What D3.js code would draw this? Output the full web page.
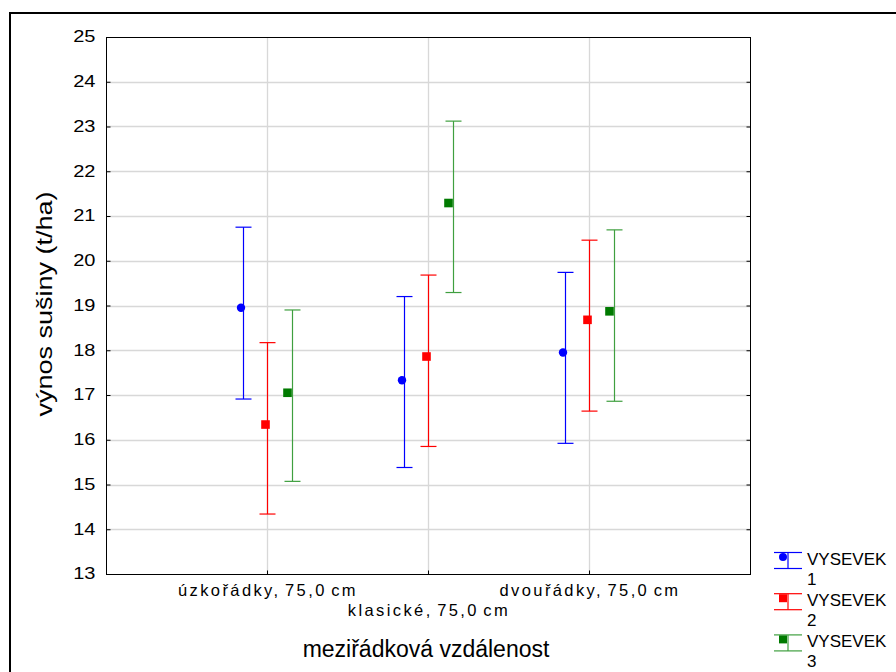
<!DOCTYPE html>
<html>
<head>
<meta charset="utf-8">
<script src="https://cdn.jsdelivr.net/npm/d3@7"></script>
<style>
  html, body { margin: 0; padding: 0; background: #fff; }
  svg { display: block; font-family: "Liberation Sans", Arial, sans-serif; }
</style>
</head>
<body>
<svg id="chart" width="896" height="672"></svg>
<script>
// ---- data ----
const categories = ["úzkořádky, 75,0 cm", "klasické, 75,0 cm", "dvouřádky, 75,0 cm"];
const seriesNames = ["VYSEVEK\n1", "VYSEVEK\n2", "VYSEVEK\n3"];
const means1 = [18.95, 17.33, 17.95];
const upper1 = [20.75, 19.20, 19.74];
const lower1 = [16.91, 15.38, 15.92];
const means2 = [16.34, 17.86, 18.68];
const upper2 = [18.17, 19.68, 20.46];
const lower2 = [14.34, 15.85, 16.64];
const means3 = [17.05, 21.29, 18.87];
const upper3 = [18.90, 23.12, 20.69];
const lower3 = [15.07, 19.29, 16.86];
const yTicks = [13, 14, 15, 16, 17, 18, 19, 20, 21, 22, 23, 24, 25];
const yLabel = "výnos sušiny (t/ha)";
const xLabel = "meziřádková vzdálenost";

// ---- styles ----
const lineColors = ["#0000ff", "#ff0000", "#3f9f3f"];
const dotColors = ["#0000ff", "#ff0000", "#007a00"];
const markers = ["circle", "square", "square"];
const lineOffset = [-24.5, 0, 24.5];
const dotShift = [-2.5, -2, -5];

const series = [
  { mean: means1, up: upper1, lo: lower1 },
  { mean: means2, up: upper2, lo: lower2 },
  { mean: means3, up: upper3, lo: lower3 }
];

const svg = d3.select("#chart");
const L = 106, R = 750, T = 37, B = 574;

// outer frame
svg.append("rect").attr("x", 10).attr("y", 13).attr("width", 900).attr("height", 700)
  .attr("fill", "none").attr("stroke", "#000").attr("stroke-width", 2);

const x = d3.scaleLinear().domain([0, categories.length + 1]).range([L, R]);
const y = d3.scaleLinear().domain([13, 25]).range([B, T]);

// grid
const grid = svg.append("g");
grid.selectAll(".hg").data(yTicks.slice(1, -1)).join("line")
  .attr("x1", L).attr("x2", R)
  .attr("y1", d => Math.round(y(d)) + 0.5).attr("y2", d => Math.round(y(d)) + 0.5)
  .attr("stroke", "#d8d8d8").attr("stroke-width", 1.3);
grid.selectAll(".vg").data(categories).join("line")
  .attr("x1", (d, i) => Math.round(x(i + 1)) + 0.5).attr("x2", (d, i) => Math.round(x(i + 1)) + 0.5)
  .attr("y1", T).attr("y2", B)
  .attr("stroke", "#d8d8d8").attr("stroke-width", 1.3);

// plot frame
svg.append("rect").attr("x", L + 0.5).attr("y", T + 0.5).attr("width", R - L).attr("height", B - T)
  .attr("fill", "none").attr("stroke", "#000").attr("stroke-width", 1);

// left axis
const yAxis = svg.append("g").attr("transform", `translate(${L + 0.5},0)`)
  .call(d3.axisLeft(y).tickValues(yTicks).tickSizeInner(-4).tickSizeOuter(0).tickPadding(0));
yAxis.select(".domain").remove();
yAxis.selectAll("line").attr("stroke", "#000");
yAxis.selectAll("text")
  .attr("x", -8.8).attr("dy", "0.3em")
  .attr("transform", "scale(1.25,1)")
  .attr("font-size", 16).attr("font-family", "Liberation Sans, Arial, sans-serif").attr("fill", "#000");

// right axis ticks
const yAxisR = svg.append("g").attr("transform", `translate(${R + 0.5},0)`)
  .call(d3.axisRight(y).tickValues(yTicks).tickSizeInner(-4).tickSizeOuter(0).tickFormat(""));
yAxisR.select(".domain").remove();
yAxisR.selectAll("line").attr("stroke", "#000");

// bottom axis
const xAxis = svg.append("g").attr("transform", `translate(0,${B + 0.5})`)
  .call(d3.axisBottom(x).tickValues(categories.map((d, i) => i + 1)).tickSizeInner(-4).tickSizeOuter(0).tickFormat(""));
xAxis.select(".domain").remove();
xAxis.selectAll("line").attr("stroke", "#000");

// category labels (staggered)
svg.selectAll(".cat").data(categories).join("text")
  .attr("x", (d, i) => x(i + 1) + 1)
  .attr("y", (d, i) => i % 2 === 0 ? 596 : 616)
  .attr("text-anchor", "middle")
  .attr("font-size", 16.5)
  .attr("letter-spacing", 2.4)
  .attr("word-spacing", -2.5)
  .attr("fill", "#000")
  .text(d => d);

// axis titles
svg.append("text").attr("transform", `translate(52,304) rotate(-90) scale(1.2,1)`)
  .attr("text-anchor", "middle").attr("font-size", 22.5).attr("fill", "#000").text(yLabel);
svg.append("text").attr("x", 426).attr("y", 657)
  .attr("text-anchor", "middle").attr("font-size", 23).attr("fill", "#000").text(xLabel);

// error bars and means
series.forEach((s, si) => {
  const g = svg.append("g");
  categories.forEach((c, ci) => {
    const cx = Math.round(x(ci + 1) + lineOffset[si]) + 0.5;
    g.append("line").attr("x1", cx).attr("x2", cx)
      .attr("y1", y(s.up[ci])).attr("y2", y(s.lo[ci]))
      .attr("stroke", lineColors[si]).attr("stroke-width", 1.2);
    [s.up[ci], s.lo[ci]].forEach(v => {
      g.append("line").attr("x1", cx - 8).attr("x2", cx + 8)
        .attr("y1", y(v)).attr("y2", y(v))
        .attr("stroke", lineColors[si]).attr("stroke-width", 1.2);
    });
    const mx = cx + dotShift[si], my = y(s.mean[ci]);
    if (markers[si] === "circle") {
      g.append("circle").attr("cx", mx).attr("cy", my).attr("r", 4.2).attr("fill", dotColors[si]);
    } else {
      g.append("rect").attr("x", mx - 4.3).attr("y", my - 4.3).attr("width", 8.6).attr("height", 8.6).attr("fill", dotColors[si]);
    }
  });
});

// legend
const lg = svg.append("g");
seriesNames.forEach((name, si) => {
  const top = 552.5 + si * 41.2;
  const g = lg.append("g").attr("transform", `translate(0,${top})`);
  g.append("line").attr("x1", 774).attr("x2", 802).attr("y1", 0).attr("y2", 0).attr("stroke", lineColors[si]).attr("stroke-width", 1.2);
  g.append("line").attr("x1", 774).attr("x2", 802).attr("y1", 16).attr("y2", 16).attr("stroke", lineColors[si]).attr("stroke-width", 1.2);
  g.append("line").attr("x1", 788).attr("x2", 788).attr("y1", 0).attr("y2", 16).attr("stroke", lineColors[si]).attr("stroke-width", 1.2);
  if (markers[si] === "circle") {
    g.append("circle").attr("cx", 783).attr("cy", 4.5).attr("r", 4).attr("fill", dotColors[si]);
  } else {
    g.append("rect").attr("x", 779).attr("y", 0.5).attr("width", 8).attr("height", 8).attr("fill", dotColors[si]);
  }
  const lines = name.split("\n");
  lines.forEach((t, li) => {
    g.append("text").attr("x", 807).attr("y", 12.5 + li * 20)
      .attr("font-size", 17).attr("fill", "#000").text(t);
  });
});
</script>
</body>
</html>
